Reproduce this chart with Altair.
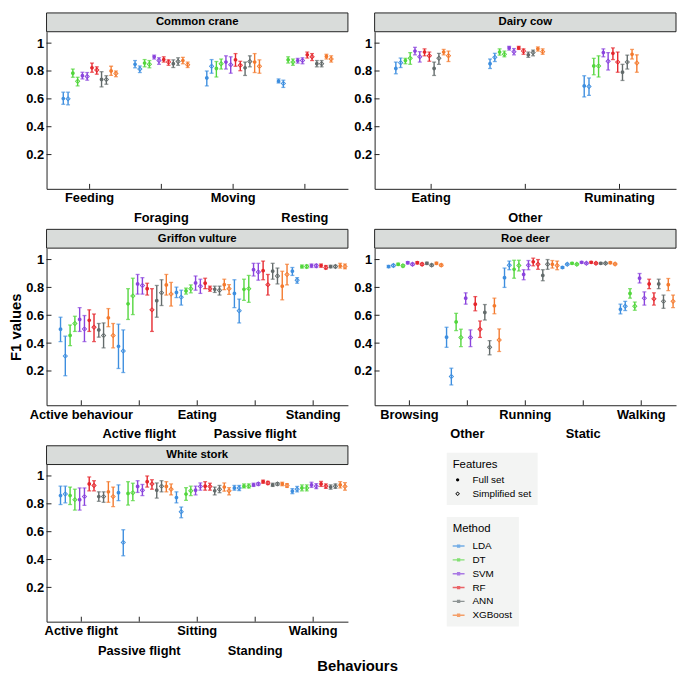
import altair as alt
import pandas as pd

METHODS = ["LDA", "DT", "SVM", "RF", "ANN", "XGBoost"]
FEATURES = ["Full set", "Simplified set"]
COLORS = ["#3D8EDF", "#52D63C", "#8A44DD", "#E5262C", "#636B6B", "#F47A2E"]

# values per behaviour: 12 entries = (LDA full, LDA simp, DT full, DT simp, SVM..., RF..., ANN..., XGBoost...)
crane_behaviours = ["Feeding", "Foraging", "Moving", "Resting"]
crane_mean = [
    [0.602, 0.600, 0.784, 0.727, 0.766, 0.761, 0.823, 0.807, 0.739, 0.739, 0.800, 0.782],
    [0.848, 0.814, 0.857, 0.848, 0.902, 0.875, 0.882, 0.864, 0.852, 0.868, 0.875, 0.845],
    [0.750, 0.834, 0.818, 0.852, 0.864, 0.845, 0.880, 0.841, 0.823, 0.868, 0.864, 0.834],
    [0.727, 0.711, 0.880, 0.864, 0.875, 0.875, 0.916, 0.902, 0.852, 0.852, 0.905, 0.886],
]
crane_lo = [
    [0.561, 0.557, 0.755, 0.693, 0.743, 0.734, 0.791, 0.777, 0.686, 0.705, 0.768, 0.759],
    [0.823, 0.789, 0.830, 0.823, 0.886, 0.848, 0.864, 0.841, 0.825, 0.841, 0.852, 0.825],
    [0.693, 0.784, 0.757, 0.814, 0.814, 0.784, 0.834, 0.802, 0.768, 0.830, 0.789, 0.784],
    [0.714, 0.682, 0.857, 0.841, 0.857, 0.852, 0.893, 0.875, 0.830, 0.830, 0.886, 0.864],
]
crane_hi = [
    [0.648, 0.648, 0.814, 0.755, 0.791, 0.789, 0.857, 0.830, 0.795, 0.766, 0.834, 0.800],
    [0.875, 0.836, 0.882, 0.875, 0.914, 0.895, 0.902, 0.880, 0.880, 0.895, 0.898, 0.864],
    [0.800, 0.882, 0.868, 0.886, 0.909, 0.902, 0.925, 0.870, 0.864, 0.909, 0.925, 0.880],
    [0.743, 0.734, 0.902, 0.886, 0.891, 0.895, 0.936, 0.925, 0.875, 0.875, 0.920, 0.909],
]

cow_behaviours = ["Eating", "Other", "Ruminating"]
cow_mean = [
    [0.818, 0.859, 0.875, 0.891, 0.943, 0.902, 0.936, 0.909, 0.818, 0.891, 0.936, 0.909],
    [0.852, 0.898, 0.936, 0.920, 0.966, 0.939, 0.966, 0.943, 0.916, 0.932, 0.959, 0.939],
    [0.693, 0.689, 0.836, 0.836, 0.932, 0.870, 0.927, 0.864, 0.791, 0.864, 0.920, 0.857],
]
cow_lo = [
    [0.780, 0.825, 0.852, 0.848, 0.916, 0.864, 0.909, 0.870, 0.768, 0.848, 0.916, 0.868],
    [0.818, 0.868, 0.914, 0.902, 0.950, 0.916, 0.955, 0.920, 0.898, 0.909, 0.943, 0.920],
    [0.614, 0.625, 0.773, 0.757, 0.902, 0.807, 0.882, 0.791, 0.732, 0.814, 0.886, 0.791],
]
cow_hi = [
    [0.864, 0.893, 0.891, 0.932, 0.970, 0.939, 0.959, 0.936, 0.864, 0.927, 0.955, 0.943],
    [0.886, 0.927, 0.959, 0.943, 0.977, 0.961, 0.977, 0.959, 0.936, 0.950, 0.973, 0.959],
    [0.766, 0.750, 0.891, 0.909, 0.959, 0.932, 0.966, 0.936, 0.848, 0.914, 0.955, 0.916],
]

vulture_behaviours = ["Active behaviour", "Active flight", "Eating", "Passive flight", "Standing"]
vulture_mean = [
    [0.500, 0.307, 0.455, 0.541, 0.570, 0.502, 0.564, 0.514, 0.495, 0.455, 0.582, 0.455],
    [0.377, 0.343, 0.682, 0.739, 0.825, 0.814, 0.791, 0.639, 0.705, 0.761, 0.818, 0.752],
    [0.764, 0.730, 0.775, 0.791, 0.832, 0.809, 0.830, 0.791, 0.786, 0.780, 0.820, 0.791],
    [0.757, 0.632, 0.786, 0.791, 0.927, 0.911, 0.920, 0.820, 0.916, 0.882, 0.809, 0.893],
    [0.916, 0.852, 0.950, 0.950, 0.957, 0.955, 0.957, 0.943, 0.950, 0.950, 0.955, 0.950],
]
vulture_lo = [
    [0.411, 0.166, 0.382, 0.484, 0.484, 0.411, 0.484, 0.411, 0.443, 0.366, 0.518, 0.366],
    [0.218, 0.189, 0.570, 0.605, 0.752, 0.752, 0.745, 0.484, 0.586, 0.670, 0.745, 0.666],
    [0.727, 0.673, 0.752, 0.761, 0.780, 0.757, 0.791, 0.773, 0.764, 0.745, 0.784, 0.750],
    [0.655, 0.545, 0.707, 0.693, 0.882, 0.852, 0.855, 0.745, 0.859, 0.825, 0.711, 0.818],
    [0.886, 0.830, 0.939, 0.939, 0.943, 0.943, 0.945, 0.932, 0.941, 0.941, 0.939, 0.934],
]
vulture_hi = [
    [0.586, 0.450, 0.530, 0.593, 0.655, 0.598, 0.639, 0.609, 0.541, 0.545, 0.648, 0.541],
    [0.536, 0.495, 0.791, 0.866, 0.893, 0.870, 0.830, 0.791, 0.814, 0.855, 0.893, 0.836],
    [0.802, 0.780, 0.795, 0.818, 0.882, 0.859, 0.866, 0.809, 0.809, 0.809, 0.859, 0.820],
    [0.855, 0.716, 0.859, 0.886, 0.973, 0.973, 0.989, 0.893, 0.973, 0.939, 0.916, 0.966],
    [0.943, 0.870, 0.961, 0.961, 0.968, 0.966, 0.968, 0.957, 0.959, 0.959, 0.973, 0.968],
]

deer_behaviours = ["Browsing", "Other", "Running", "Static", "Walking"]
deer_mean = [
    [0.950, 0.957, 0.966, 0.955, 0.977, 0.966, 0.977, 0.966, 0.973, 0.960, 0.973, 0.960],
    [0.443, 0.160, 0.552, 0.440, 0.723, 0.440, 0.680, 0.500, 0.620, 0.370, 0.668, 0.423],
    [0.870, 0.960, 0.930, 0.957, 0.893, 0.960, 0.984, 0.966, 0.886, 0.966, 0.966, 0.957],
    [0.943, 0.966, 0.973, 0.966, 0.980, 0.973, 0.980, 0.973, 0.973, 0.973, 0.977, 0.968],
    [0.643, 0.665, 0.757, 0.665, 0.866, 0.723, 0.825, 0.718, 0.825, 0.700, 0.820, 0.700],
]
deer_lo = [
    [0.942, 0.949, 0.958, 0.947, 0.969, 0.958, 0.969, 0.958, 0.965, 0.952, 0.965, 0.952],
    [0.370, 0.100, 0.490, 0.375, 0.680, 0.375, 0.632, 0.441, 0.566, 0.316, 0.611, 0.340],
    [0.800, 0.927, 0.866, 0.918, 0.855, 0.927, 0.955, 0.930, 0.848, 0.930, 0.939, 0.927],
    [0.937, 0.960, 0.967, 0.960, 0.974, 0.967, 0.974, 0.967, 0.967, 0.967, 0.971, 0.962],
    [0.610, 0.634, 0.723, 0.636, 0.832, 0.673, 0.791, 0.673, 0.791, 0.650, 0.777, 0.655],
]
deer_hi = [
    [0.958, 0.965, 0.974, 0.963, 0.985, 0.974, 0.985, 0.974, 0.981, 0.968, 0.981, 0.968],
    [0.514, 0.220, 0.614, 0.500, 0.761, 0.495, 0.734, 0.559, 0.677, 0.418, 0.723, 0.502],
    [0.939, 0.989, 0.995, 0.995, 0.927, 0.993, 1.010, 1.000, 0.927, 1.000, 0.993, 0.989],
    [0.949, 0.972, 0.979, 0.972, 0.986, 0.979, 0.986, 0.979, 0.979, 0.979, 0.983, 0.974],
    [0.680, 0.700, 0.791, 0.695, 0.900, 0.768, 0.859, 0.761, 0.859, 0.745, 0.864, 0.745],
]

stork_behaviours = ["Active flight", "Passive flight", "Sitting", "Standing", "Walking"]
stork_mean = [
    [0.859, 0.870, 0.859, 0.830, 0.830, 0.852, 0.943, 0.932, 0.852, 0.852, 0.886, 0.852],
    [0.880, 0.523, 0.875, 0.880, 0.925, 0.898, 0.959, 0.943, 0.898, 0.927, 0.925, 0.905],
    [0.845, 0.743, 0.870, 0.893, 0.898, 0.925, 0.927, 0.925, 0.893, 0.905, 0.920, 0.893],
    [0.914, 0.914, 0.927, 0.927, 0.936, 0.943, 0.959, 0.950, 0.936, 0.943, 0.943, 0.932],
    [0.891, 0.905, 0.914, 0.914, 0.936, 0.927, 0.943, 0.927, 0.920, 0.927, 0.936, 0.925],
]
stork_lo = [
    [0.795, 0.807, 0.795, 0.755, 0.755, 0.789, 0.893, 0.893, 0.818, 0.811, 0.811, 0.780],
    [0.823, 0.427, 0.791, 0.823, 0.882, 0.859, 0.920, 0.905, 0.841, 0.886, 0.886, 0.864],
    [0.807, 0.700, 0.825, 0.859, 0.864, 0.898, 0.898, 0.898, 0.864, 0.880, 0.891, 0.864],
    [0.898, 0.895, 0.914, 0.914, 0.925, 0.932, 0.948, 0.939, 0.925, 0.932, 0.930, 0.918],
    [0.873, 0.886, 0.893, 0.893, 0.918, 0.909, 0.925, 0.911, 0.905, 0.911, 0.914, 0.898],
]
stork_hi = [
    [0.927, 0.927, 0.920, 0.905, 0.914, 0.914, 0.993, 0.966, 0.886, 0.886, 0.959, 0.920],
    [0.936, 0.614, 0.959, 0.948, 0.966, 0.939, 1.000, 0.973, 0.950, 0.966, 0.959, 0.943],
    [0.886, 0.777, 0.916, 0.927, 0.927, 0.950, 0.959, 0.948, 0.920, 0.932, 0.950, 0.916],
    [0.932, 0.932, 0.943, 0.943, 0.948, 0.952, 0.970, 0.961, 0.948, 0.952, 0.955, 0.945],
    [0.909, 0.925, 0.936, 0.936, 0.955, 0.945, 0.961, 0.943, 0.936, 0.943, 0.959, 0.952],
]

Y_TICKS = [0.2, 0.4, 0.6, 0.8, 1.0]

FONT = "Liberation Sans"
W = 305
H = 159
GROUPS = [f"{m}|{f}" for m in METHODS for f in FEATURES]
CIRCLE = "M-0.7,0A0.7,0.7,0,1,1,0.7,0A0.7,0.7,0,1,1,-0.7,0Z"
RING = "M0,-1L1,0L0,1L-1,0Z M0,-0.55L-0.55,0L0,0.55L0.55,0Z"
LINEDOT = "M-1,-0.12H1V0.12H-1Z M-0.28,-0.28H0.28V0.28H-0.28Z"


def build_df(behs, mean, lo, hi):
    rows = []
    for bi, b in enumerate(behs):
        for k in range(12):
            m = METHODS[k // 2]
            f = FEATURES[k % 2]
            rows.append(dict(behaviour=b, method=m, features=f, grp=f"{m}|{f}",
                             mean=mean[bi][k], lo=lo[bi][k], hi=hi[bi][k]))
    return pd.DataFrame(rows)


color_enc = alt.Color(
    "method:N",
    scale=alt.Scale(domain=METHODS, range=COLORS),
    legend=alt.Legend(
        title="Method", orient="none", legendX=405, legendY=491,
        symbolType=LINEDOT, symbolSize=144, symbolStrokeWidth=0,
        fillColor="#f3f4f3", padding=6, titleFontSize=11.5, titleFontWeight="normal",
        titleFont=FONT, labelFont=FONT, labelFontSize=10, titleColor="black",
        labelColor="black", rowPadding=3, titlePadding=6, labelOffset=8,
    ),
)
shape_enc = alt.Shape(
    "features:N",
    scale=alt.Scale(domain=FEATURES, range=[CIRCLE, RING]),
    legend=alt.Legend(
        title="Features", orient="none", legendX=405, legendY=426,
        symbolSize=22, symbolFillColor="black", symbolStrokeWidth=0,
        fillColor="#f3f4f3", padding=6, titleFontSize=11.5, titleFontWeight="normal",
        titleFont=FONT, labelFont=FONT, labelFontSize=10, titleColor="black",
        labelColor="black", rowPadding=4, titlePadding=5, labelOffset=10,
    ),
)


def panel(title, behs, mean, lo, hi, second_row, left):
    df = build_df(behs, mean, lo, hi)
    test = " || ".join(f"datum.label == '{s}'" for s in second_row)
    expr = f"({test}) ? ['', datum.label] : datum.label"
    x_enc = alt.X(
        "behaviour:N", sort=behs,
        scale=alt.Scale(domain=behs, paddingInner=0.2, paddingOuter=0.2),
        axis=alt.Axis(title=None, labelAngle=0, ticks=False, labelExpr=expr,
                      labelLineHeight=20, labelPadding=3, domainColor="#222",
                      labelFont=FONT, labelFontWeight="bold", labelFontSize=13,
                      labelColor="black"),
    )
    xo = alt.XOffset("grp:N", sort=GROUPS,
                     scale=alt.Scale(domain=GROUPS, paddingInner=0, paddingOuter=0))
    yscale = alt.Scale(domain=[-0.046, 1.082], nice=False, zero=False)
    yaxis = alt.Axis(values=Y_TICKS, format="~g", grid=False, ticks=False,
                     title="F1 values" if left else None,
                     titleOpacity=1 if title == "Griffon vulture" else 0,
                     titleFont=FONT, titleFontSize=15, titleFontWeight="bold",
                     titleColor="black", titlePadding=2,
                     labelFont=FONT, labelFontWeight="bold", labelFontSize=13,
                     labelColor="black", labelPadding=3, domainColor="#222")

    base = alt.Chart(df)
    rules = base.mark_rule(strokeWidth=1.4).encode(
        x=x_enc, xOffset=xo,
        y=alt.Y("lo:Q", scale=yscale, axis=yaxis), y2="hi:Q", color=color_enc)
    cap_lo = base.mark_tick(size=4, thickness=1.3).encode(
        x=x_enc, xOffset=xo, y=alt.Y("lo:Q", scale=yscale, axis=yaxis), color=color_enc)
    cap_hi = base.mark_tick(size=4, thickness=1.3).encode(
        x=x_enc, xOffset=xo, y=alt.Y("hi:Q", scale=yscale, axis=yaxis), color=color_enc)
    pts = base.mark_point(filled=True, opacity=1, size=30, strokeWidth=0).encode(
        x=x_enc, xOffset=xo, y=alt.Y("mean:Q", scale=yscale, axis=yaxis),
        color=color_enc, shape=shape_enc)

    yt = alt.Chart(pd.DataFrame({"v": Y_TICKS})).mark_rule(color="#222", strokeWidth=1).encode(
        y=alt.Y("v:Q", scale=yscale, axis=yaxis), x=alt.value(0), x2=alt.value(5))
    xt = alt.Chart(pd.DataFrame({"behaviour": behs})).mark_rule(color="#222", strokeWidth=1).encode(
        x=x_enc, y=alt.value(H), y2=alt.value(H - 5))

    tdf = pd.DataFrame({"t": [title]})
    strip = alt.Chart(tdf).mark_rect(fill="#d9dcda", stroke="#222", strokeWidth=1).encode(
        x=alt.value(0), x2=alt.value(W), y=alt.value(-19), y2=alt.value(0))
    stext = alt.Chart(tdf).mark_text(font=FONT, fontWeight="bold", fontSize=11.5,
                                     baseline="middle", align="center", color="black").encode(
        text="t:N", x=alt.value(W / 2), y=alt.value(-9.5))

    return alt.layer(strip, stext, yt, xt, rules, cap_lo, cap_hi, pts).properties(
        width=W, height=H)


crane = panel("Common crane", crane_behaviours, crane_mean, crane_lo, crane_hi,
              ["Foraging", "Resting"], True)
cow = panel("Dairy cow", cow_behaviours, cow_mean, cow_lo, cow_hi, ["Other"], False)
vulture = panel("Griffon vulture", vulture_behaviours, vulture_mean, vulture_lo, vulture_hi,
                ["Active flight", "Passive flight"], True)
deer = panel("Roe deer", deer_behaviours, deer_mean, deer_lo, deer_hi, ["Other", "Static"], False)
stork = panel("White stork", stork_behaviours, stork_mean, stork_lo, stork_hi,
              ["Passive flight", "Standing"], True)

chart = alt.concat(crane, cow, vulture, deer, stork, columns=2,
                   spacing={"row": 4, "column": 4}).properties(
    padding=0,
    title=alt.TitleParams("Behaviours", orient="bottom", anchor="middle", fontSize=15,
                          font=FONT, fontWeight="bold", color="black", offset=2, dx=15),
).configure_view(stroke=None).configure_axis(labelFont=FONT)

chart.save("out.html", embed_options={"renderer": "svg", "actions": False})
